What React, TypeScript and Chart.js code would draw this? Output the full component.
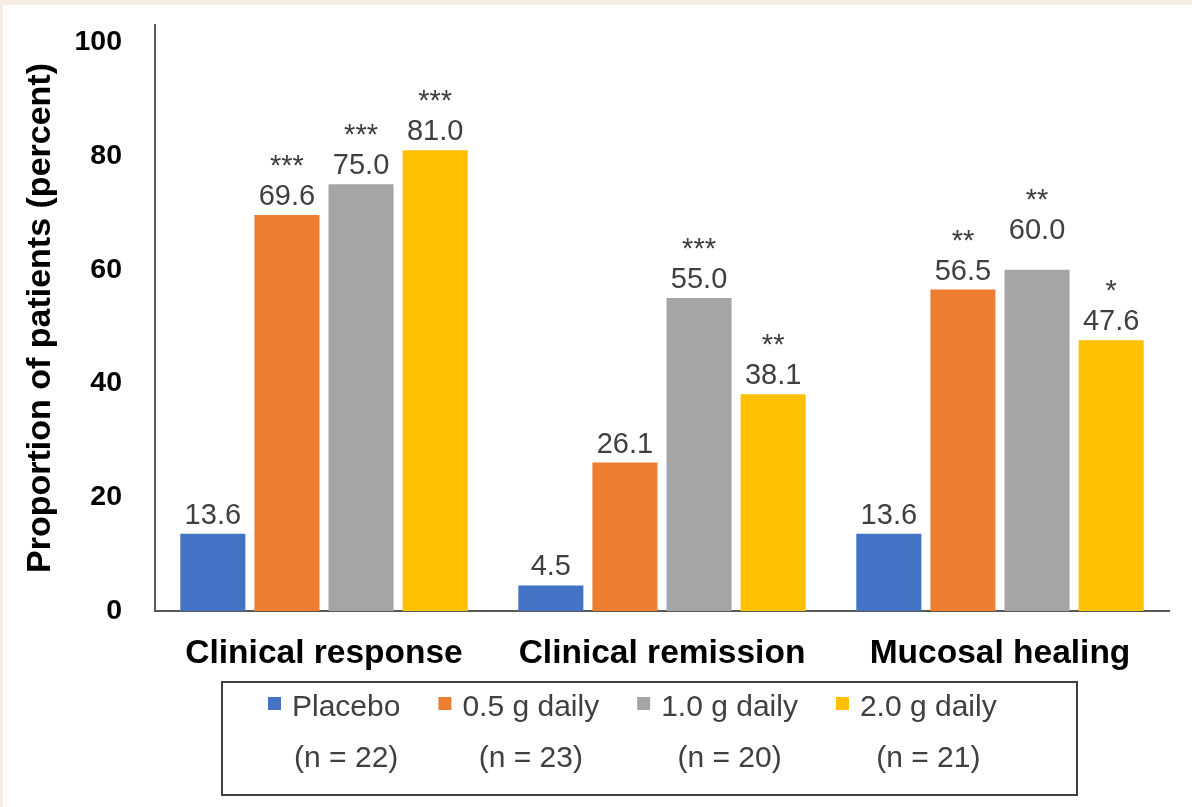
import React, { useEffect, useRef } from 'react';
import { Chart, registerables } from 'chart.js';

Chart.register(...registerables);

const categories = ['Clinical response', 'Clinical remission', 'Mucosal healing'];
const seriesNames = ['Placebo', '0.5 g daily', '1.0 g daily', '2.0 g daily'];
const sampleSizes = ['(n = 22)', '(n = 23)', '(n = 20)', '(n = 21)'];
const placebo = [13.6, 4.5, 13.6];
const dose05 = [69.6, 26.1, 56.5];
const dose10 = [75.0, 55.0, 60.0];
const dose20 = [81.0, 38.1, 47.6];
const placeboSig = ['', '', ''];
const dose05Sig = ['***', '', '**'];
const dose10Sig = ['***', '***', '**'];
const dose20Sig = ['***', '**', '*'];
const yTicks = [0, 20, 40, 60, 80, 100];
const yAxisTitle = 'Proportion of patients (percent)';
const seriesColors = ['#4472C4', '#ED7D31', '#A5A5A5', '#FFC000'];

const FONT = '"Liberation Sans", Arial, Helvetica, sans-serif';

const framePlugin = {
  id: 'frame',
  beforeDraw(chart: any) {
    const { ctx, width, height } = chart;
    ctx.save();
    ctx.fillStyle = '#F6EEE5';
    ctx.fillRect(0, 0, width, height);
    ctx.fillStyle = '#FFFFFF';
    ctx.fillRect(3, 5, width - 3, height - 5);
    ctx.restore();
  },
};

const barLabelPlugin = {
  id: 'barLabels',
  afterDatasetsDraw(chart: any, _args: any, opts: any) {
    const ctx = chart.ctx;
    const lift = (opts && opts.lift) || {};
    ctx.save();
    ctx.font = `29px ${FONT}`;
    ctx.fillStyle = '#404040';
    ctx.textAlign = 'center';
    ctx.textBaseline = 'alphabetic';
    chart.data.datasets.forEach((ds: any, di: number) => {
      const meta = chart.getDatasetMeta(di);
      meta.data.forEach((bar: any, i: number) => {
        const v = ds.data[i] as number;
        const base = bar.y - 10 - (lift[`${di}-${i}`] || 0);
        ctx.fillText(v.toFixed(1), bar.x, base);
        const s = ds.significance ? ds.significance[i] : '';
        if (s) ctx.fillText(s, bar.x, base - 30);
      });
    });
    ctx.restore();
  },
};

const legendPlugin = {
  id: 'boxLegend',
  afterDraw(chart: any) {
    const ctx = chart.ctx;
    ctx.save();
    ctx.strokeStyle = '#404040';
    ctx.lineWidth = 2;
    ctx.strokeRect(222, 682, 855, 113);
    ctx.font = `30px ${FONT}`;
    ctx.textBaseline = 'alphabetic';
    let x = 268;
    chart.data.datasets.forEach((ds: any, i: number) => {
      ctx.fillStyle = ds.backgroundColor;
      ctx.fillRect(x, 697, 13, 13);
      const tx = x + 24;
      const w = ctx.measureText(ds.label).width;
      ctx.fillStyle = '#404040';
      ctx.textAlign = 'left';
      ctx.fillText(ds.label, tx, 716);
      ctx.textAlign = 'center';
      ctx.fillText(sampleSizes[i], tx + w / 2, 767);
      x = tx + w + 38;
    });
    ctx.restore();
  },
};

export default function App() {
  const ref = useRef<HTMLCanvasElement | null>(null);

  useEffect(() => {
    if (!ref.current) return;
    const values = [placebo, dose05, dose10, dose20];
    const sigs = [placeboSig, dose05Sig, dose10Sig, dose20Sig];
    const chart = new Chart(ref.current, {
      type: 'bar',
      data: {
        labels: categories,
        datasets: seriesNames.map((name, i) => ({
          label: name,
          data: values[i],
          backgroundColor: seriesColors[i],
          borderWidth: 0,
          categoryPercentage: 0.877,
          barPercentage: 0.878,
          significance: sigs[i],
        })) as any,
      },
      options: {
        responsive: false,
        animation: false,
        devicePixelRatio: 1,
        layout: { padding: { top: 25, left: 0, right: 23, bottom: 0 } },
        plugins: {
          legend: { display: false },
          tooltip: { enabled: false },
          barLabels: { lift: { '2-2': 21 } },
        } as any,
        scales: {
          x: {
            grid: { display: false, drawTicks: false },
            border: { display: true, color: '#595959', width: 2 },
            ticks: {
              autoSkip: false,
              maxRotation: 0,
              padding: 23,
              color: '#000000',
              font: { family: FONT, size: 33.5, weight: 'bold' },
            },
            afterFit: (scale: any) => {
              scale.height = 196;
              scale.paddingLeft = 0;
              scale.paddingRight = 0;
            },
          },
          y: {
            min: 0,
            max: 103,
            grid: { display: false, drawTicks: false },
            border: { display: true, color: '#595959', width: 2 },
            afterBuildTicks: (scale: any) => {
              scale.ticks = yTicks.map((v) => ({ value: v }));
            },
            ticks: {
              padding: 33,
              color: '#000000',
              font: { family: FONT, size: 28.5, weight: 'bold' },
            },
            title: {
              display: true,
              text: yAxisTitle,
              color: '#000000',
              font: { family: FONT, size: 34, weight: 'bold' },
              padding: { top: 20, bottom: 0 },
            },
            afterFit: (scale: any) => {
              scale.width = 155;
              scale.paddingTop = 0;
              scale.paddingBottom = 0;
            },
          },
        },
      },
      plugins: [framePlugin, barLabelPlugin, legendPlugin],
    });
    return () => chart.destroy();
  }, []);

  return (
    <div style={{ position: 'fixed', left: 0, top: 0, width: 1192, height: 807 }}>
      <canvas ref={ref} width={1192} height={807} style={{ display: 'block' }} />
    </div>
  );
}
